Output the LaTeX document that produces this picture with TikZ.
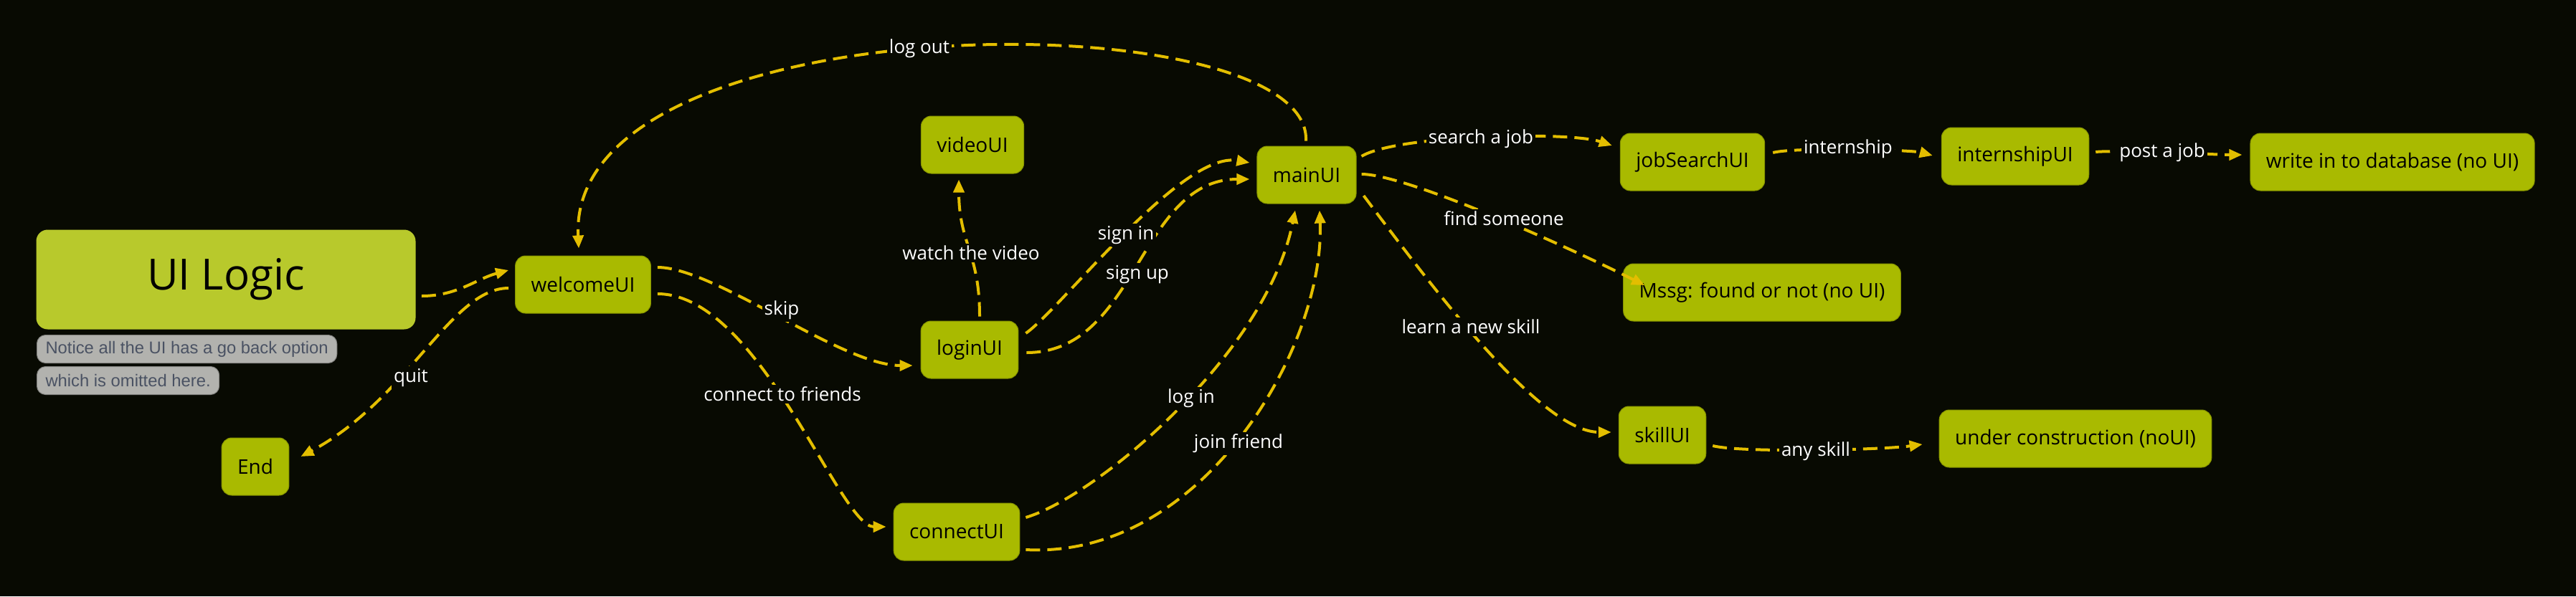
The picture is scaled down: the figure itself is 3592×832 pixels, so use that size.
\documentclass[tikz,border=0pt]{standalone}
\usepackage{fontspec}
\setmainfont{Open Sans}
\newfontfamily\notefont{Liberation Sans}
\usetikzlibrary{arrows.meta,calc}

\definecolor{bgdark}{HTML}{080A02}
\definecolor{uifill}{HTML}{A9BA00}
\definecolor{titlefill}{HTML}{B8C92C}
\definecolor{flowgold}{HTML}{E3BE00}
\definecolor{notegrey}{HTML}{B2B2AE}
\definecolor{notetext}{HTML}{4A5263}

\begin{document}
\begin{tikzpicture}[x=0.5pt,y=-0.5pt,
    uibox/.style={fill=uifill, draw=uifill!80!black, line width=0.5pt, rounded corners=7pt,
      minimum height=40pt, inner xsep=11pt, text=black, font=\fontsize{14}{16}\selectfont},
    titlebox/.style={fill=titlefill, rounded corners=8pt, minimum width=264.5pt, minimum height=69.5pt,
      text=black, font=\fontsize{30}{36}\selectfont},
    notebox/.style={fill=notegrey, draw=notegrey!75!black, line width=0.5pt, rounded corners=6pt,
      minimum height=19.5pt, inner xsep=6pt, inner ysep=0pt,
      text=notetext, font=\notefont\fontsize{11.9}{13}\selectfont},
    flow/.style={draw=flowgold, line width=2pt, dash pattern=on 10pt off 5pt,
      -{Triangle[length=9pt,width=7.5pt]}},
    lbl/.style={text=white, fill=bgdark, inner sep=1.5pt, font=\fontsize{13}{15}\selectfont}]

        % 背景
        \useasboundingbox (0,0) rectangle (3592,832);
        \fill[bgdark] (0,0) rectangle (3592,832);

        % 标题与说明
        \node[titlebox] (title) at (315,390) {UI Logic};
        \node[notebox, anchor=west] (note1) at (51,487) {Notice all the UI has a go back option};
        \node[notebox, anchor=west] (note2) at (51,531) {which is omitted here.};

        % 界面节点
        \node[uibox] (welcome) at (813,397) {welcomeUI};
        \node[uibox] (endui) at (356,651) {End};
        \node[uibox] (video) at (1356,202) {videoUI};
        \node[uibox] (login) at (1352,488) {loginUI};
        \node[uibox] (connect) at (1334,742) {connectUI};
        \node[uibox] (main) at (1822,244) {mainUI};
        \node[uibox] (jobsearch) at (2360,226) {jobSearchUI};
        \node[uibox] (internship) at (2810,218) {internshipUI};
        \node[uibox] (database) at (3336,226) {write in to database (no UI)};
        \node[uibox] (mssg) at (2457,408) {Mssg: found or not (no UI)};
        \node[uibox] (skill) at (2318,607) {skillUI};
        \node[uibox] (construction) at (2894,612) {under construction (noUI)};

        % 连线
        \draw[flow] ($(title.east)+(8,23)$) .. controls +(50,0) and +(-45,12) .. ($(welcome.west)+(-9,-20)$);
        \draw[flow] ($(welcome.west)+(-9,5)$) .. controls +(-80,0) and +(150,-80) .. ($(endui.east)+(16,-14)$);
        \draw[flow] ($(welcome.east)+(9,-24)$) .. controls +(80,0) and +(-100,0) .. ($(login.west)+(-11,22)$);
        \draw[flow] ($(welcome.east)+(9,13)$) .. controls +(142,0) and +(-65,0) .. ($(connect.west)+(-10,-7)$);
        \draw[flow] ($(login.north)+(14,-6)$) .. controls +(0,-90) and +(0,90) .. ($(video.south)+(-19,8)$);
        \draw[flow] ($(login.east)+(10,-23)$) .. controls +(50,-35) and +(-95,-17) .. ($(main.west)+(-10,-17)$);
        \draw[flow] ($(login.east)+(11,4)$) .. controls +(155,0) and +(-155,0) .. ($(main.west)+(-10,6)$);
        \draw[flow] ($(connect.east)+(8,-20)$) .. controls +(100,-30) and +(-40,200) .. ($(main.south)+(-16,9)$);
        \draw[flow] ($(connect.east)+(8,25)$) .. controls +(249,13) and +(8,187) .. ($(main.south)+(18,9)$);
        \draw[flow] ($(main.north)+(-1,-7)$) .. controls +(9,-197) and +(-17,-348) .. ($(welcome.north)+(-6,-10)$);
        \draw[flow] ($(main.east)+(7,-26)$) .. controls +(50,-30) and +(-60,-20) .. ($(jobsearch.west)+(-11,-23)$);
        \draw[flow] ($(jobsearch.east)+(11,-13)$) .. controls +(30,-8) and +(-30,-8) .. ($(internship.west)+(-12,-1)$);
        \draw[flow] ($(internship.east)+(9,-6)$) .. controls +(30,-3) and +(-30,0) .. ($(database.west)+(-11,-10)$);
        \draw[flow] ($(main.east)+(7,-1)$) .. controls +(60,0) and +(-120,-60) .. ($(mssg.west)+(30,-10)$);
        \draw[flow] ($(main.east)+(10,29)$) .. controls +(90,120) and +(-100,0) .. ($(skill.west)+(-10,-4)$);
        \draw[flow] ($(skill.east)+(9,15)$) .. controls +(40,10) and +(-60,8) .. ($(construction.west)+(-23,8)$);

        % 连线标签
        \node[lbl] (lbllogout) at (1282,68) {log out};
        \node[lbl] (lblquit) at (573,527) {quit};
        \node[lbl] (lblskip) at (1090,433) {skip};
        \node[lbl] (lblfriends) at (1091,550) {connect to friends};
        \node[lbl] (lblvideo) at (1354,353) {watch the video};
        \node[lbl] (lblsignin) at (1570,328) {sign in};
        \node[lbl] (lblsignup) at (1586,383) {sign up};
        \node[lbl] (lbllogin) at (1661,556) {log in};
        \node[lbl] (lbljoin) at (1727,619) {join friend};
        \node[lbl] (lblsearch) at (2065,194) {search a job};
        \node[lbl] (lblintern) at (2577,208) {internship};
        \node[lbl] (lblpost) at (3015,213) {post a job};
        \node[lbl] (lblfind) at (2097,305) {find someone};
        \node[lbl] (lbllearn) at (2051,456) {learn a new skill};
        \node[lbl] (lblany) at (2532,630) {any skill};

    \end{tikzpicture}
\end{document}
